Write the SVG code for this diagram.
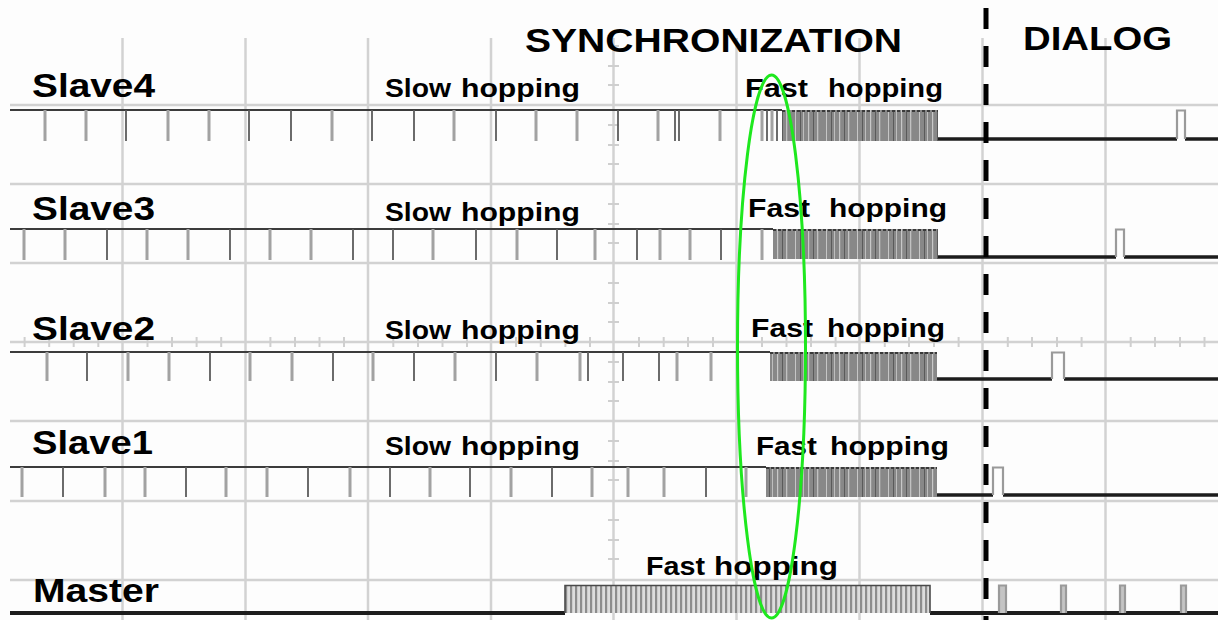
<svg xmlns="http://www.w3.org/2000/svg" width="1218" height="620" viewBox="0 0 1218 620">
<style>
.grid{stroke:#d2d2d2;stroke-width:2.5;fill:none}
.tick{stroke:#cfcfcf;stroke-width:2;fill:none}
.base{stroke:#3c3c3c;stroke-width:2;fill:none}
.low{stroke:#1c1c1c;stroke-width:3.5;fill:none}
.pl{stroke:#a2a2a2;stroke-width:3;fill:none}
.pd{stroke:#5c5c5c;stroke-width:1.8;fill:none}
.pulse{stroke:#9a9a9a;stroke-width:2.2;fill:none}
.topdots{stroke:#3a3a3a;stroke-width:2;stroke-dasharray:3 2;fill:none}
.name{font-family:"Liberation Sans",Arial,sans-serif;font-weight:bold;font-size:34px;fill:#000}
.lbl{font-family:"Liberation Sans",Arial,sans-serif;font-weight:bold;font-size:25px;fill:#000}
.title{font-family:"Liberation Sans",Arial,sans-serif;font-weight:bold;font-size:33px;fill:#000}
</style>
<defs>
<pattern id="fs" patternUnits="userSpaceOnUse" x="0" y="0" width="31" height="620">
<rect width="31" height="620" fill="#888"/>
<rect x="2" width="1.2" height="620" fill="#c8c8c8"/>
<rect x="7" width="1" height="620" fill="#5a5a5a"/>
<rect x="11" width="1.3" height="620" fill="#c2c2c2"/>
<rect x="20" width="1" height="620" fill="#c6c6c6"/>
<rect x="25" width="1" height="620" fill="#5a5a5a"/>
<rect x="28" width="1" height="620" fill="#bebebe"/>
</pattern>
<pattern id="fm" patternUnits="userSpaceOnUse" x="0" y="0" width="5" height="620">
<rect width="5" height="620" fill="#dcdcdc"/>
<rect x="0" width="2.2" height="620" fill="#8c8c8c"/>
</pattern>
</defs>
<rect width="1218" height="620" fill="#fdfdfd"/>
<g id="grid">
<path class="grid" d="M122.5,38V620M245.5,38V620M368,38V620M491,38V620M613.5,38V620M736.5,38V620M859.5,38V620M982.5,38V620M1105.5,38V620"/>
<path class="grid" d="M10,105H1218M10,184H1218M10,263H1218M10,342H1218M10,421H1218M10,501H1218M10,580H1218"/>
<path class="tick" d="M608,46h11M608,66h11M608,85h11M608,125h11M608,145h11M608,164h11M608,204h11M608,224h11M608,243h11M608,283h11M608,303h11M608,322h11M608,362h11M608,382h11M608,401h11M608,441h11M608,461h11M608,480h11M608,520h11M608,540h11M608,559h11M608,599h11"/>
<path class="tick" d="M24.6,337v10M49.2,337v10M73.7,337v10M98.3,337v10M147.5,337v10M172,337v10M196.6,337v10M221.2,337v10M270.4,337v10M295,337v10M319.5,337v10M344,337v10M393.3,337v10M418,337v10M442.5,337v10M467,337v10M516,337v10M540.8,337v10M565.4,337v10M590,337v10M639,337v10M663.7,337v10M688,337v10M713,337v10M762,337v10M786.5,337v10M811,337v10M835.6,337v10M884.8,337v10M909,337v10M934,337v10M958.6,337v10M1007.8,337v10M1032,337v10M1057,337v10M1081.6,337v10M1130.7,337v10M1155,337v10M1180,337v10M1204.5,337v10"/>
</g>
<g id="titles">
<text class="title" x="525" y="52" textLength="377" lengthAdjust="spacingAndGlyphs">SYNCHRONIZATION</text>
<text class="title" x="1023" y="50" textLength="149" lengthAdjust="spacingAndGlyphs" style="font-size:34px">DIALOG</text>
</g>
<g id="slave4">
<path class="base" d="M10,110H782"/>
<path class="pl" d="M45,110v31M86,110v31M168,110v31M209,110v31M332,110v31M454,110v31M536,110v31M577,110v31M658,110v31M720,110v31M762,110v31M772,110v31"/>
<path class="pd" d="M126,110v31M249,110v31M291,110v31M372,110v31M414,110v31M496,110v31M618,110v31M675,110v31M679,110v31M767,110v31M777,110v31"/>
<rect x="782" y="110" width="156" height="31" fill="url(#fs)"/>
<path class="topdots" d="M782,111H938"/>
<path class="low" d="M938,139H1177M1185,139H1218"/>
<path class="pulse" d="M1177,139V110.5H1185V139"/>
<text class="name" x="32" y="97" textLength="123" lengthAdjust="spacingAndGlyphs">Slave4</text>
<text class="lbl" y="97"><tspan x="385" textLength="66" lengthAdjust="spacingAndGlyphs">Slow</tspan><tspan x="461" textLength="119" lengthAdjust="spacingAndGlyphs">hopping</tspan></text>
<text class="lbl" y="97"><tspan x="745" textLength="63" lengthAdjust="spacingAndGlyphs">Fast</tspan><tspan x="828" textLength="115" lengthAdjust="spacingAndGlyphs">hopping</tspan></text>
</g>
<g id="slave3">
<path class="base" d="M10,229H773"/>
<path class="pl" d="M24,229v31M65,229v31M147,229v31M188,229v31M270,229v31M311,229v31M433,229v31M517,229v31M595,229v31M660,229v31M690,229v31M762,229v31"/>
<path class="pd" d="M107,229v31M230,229v31M353,229v31M393,229v31M476,229v31M557,229v31M637,229v31M721,229v31"/>
<rect x="773" y="229" width="165" height="30" fill="url(#fs)"/>
<path class="topdots" d="M773,230H938"/>
<path class="low" d="M938,257H1116M1124,257H1218"/>
<path class="pulse" d="M1116,257V229.5H1124V257"/>
<text class="name" x="32" y="220" textLength="123" lengthAdjust="spacingAndGlyphs">Slave3</text>
<text class="lbl" y="221"><tspan x="385" textLength="66" lengthAdjust="spacingAndGlyphs">Slow</tspan><tspan x="461" textLength="119" lengthAdjust="spacingAndGlyphs">hopping</tspan></text>
<text class="lbl" y="217"><tspan x="748" textLength="62" lengthAdjust="spacingAndGlyphs">Fast</tspan><tspan x="829" textLength="118" lengthAdjust="spacingAndGlyphs">hopping</tspan></text>
</g>
<g id="slave2">
<path class="base" d="M10,352H770"/>
<path class="pl" d="M47,352v29M128,352v29M169,352v29M250,352v29M292,352v29M373,352v29M455,352v29M537,352v29M580,352v29M677,352v29M711,352v29"/>
<path class="pd" d="M87,352v29M210,352v29M333,352v29M414,352v29M496,352v29M588,352v29M623,352v29M659,352v29"/>
<rect x="770" y="352" width="167" height="29" fill="url(#fs)"/>
<path class="topdots" d="M770,353H937"/>
<path class="low" d="M937,379H1052M1064,379H1218"/>
<path class="pulse" d="M1052,379V352.5H1064V379"/>
<text class="name" x="32" y="340" textLength="123" lengthAdjust="spacingAndGlyphs">Slave2</text>
<text class="lbl" y="339"><tspan x="385" textLength="66" lengthAdjust="spacingAndGlyphs">Slow</tspan><tspan x="461" textLength="119" lengthAdjust="spacingAndGlyphs">hopping</tspan></text>
<text class="lbl" y="337"><tspan x="751" textLength="62" lengthAdjust="spacingAndGlyphs">Fast</tspan><tspan x="827" textLength="118" lengthAdjust="spacingAndGlyphs">hopping</tspan></text>
</g>
<g id="slave1">
<path class="base" d="M10,467H766"/>
<path class="pl" d="M22,467v30M105,467v30M145,467v30M226,467v30M267,467v30M350,467v30M430,467v30M511,467v30M592,467v30M628,467v30M664,467v30M746,467v30"/>
<path class="pd" d="M63,467v30M186,467v30M308,467v30M390,467v30M470,467v30M552,467v30M706,467v30"/>
<rect x="766" y="467" width="171" height="30" fill="url(#fs)"/>
<path class="topdots" d="M766,468H937"/>
<path class="low" d="M937,495H993M1003,495H1218"/>
<path class="pulse" d="M993,495V467.5H1003V495"/>
<text class="name" x="32" y="454" textLength="121" lengthAdjust="spacingAndGlyphs">Slave1</text>
<text class="lbl" y="455"><tspan x="385" textLength="66" lengthAdjust="spacingAndGlyphs">Slow</tspan><tspan x="461" textLength="119" lengthAdjust="spacingAndGlyphs">hopping</tspan></text>
<text class="lbl" y="455"><tspan x="756" textLength="61" lengthAdjust="spacingAndGlyphs">Fast</tspan><tspan x="830" textLength="119" lengthAdjust="spacingAndGlyphs">hopping</tspan></text>
</g>
<g id="master">
<path class="low" d="M10,613H565M930,613H1218" style="stroke-width:4"/>
<rect x="565" y="585" width="365" height="28" fill="url(#fm)"/>
<path d="M565,613V585.5H930V613" fill="none" stroke="#4a4a4a" stroke-width="1.6"/>
<path class="pulse" d="M999,613V585.5H1006V613M1061,613V585.5H1066V613M1120,613V585.5H1125V613M1181,613V585.5H1186V613" style="fill:#c4c4c4"/>
<text class="name" x="33" y="602" textLength="126" lengthAdjust="spacingAndGlyphs">Master</text>
<text class="lbl" y="575"><tspan x="646" textLength="59" lengthAdjust="spacingAndGlyphs">Fast</tspan><tspan x="714" textLength="124" lengthAdjust="spacingAndGlyphs">hopping</tspan></text>
</g>
<g id="connectors">
<path d="M986,8V620" fill="none" stroke="#000" stroke-width="5" stroke-dasharray="21 17"/>
<ellipse cx="771.5" cy="346.5" rx="34" ry="271.5" fill="none" stroke="#1ee81e" stroke-width="3"/>
</g>
</svg>
